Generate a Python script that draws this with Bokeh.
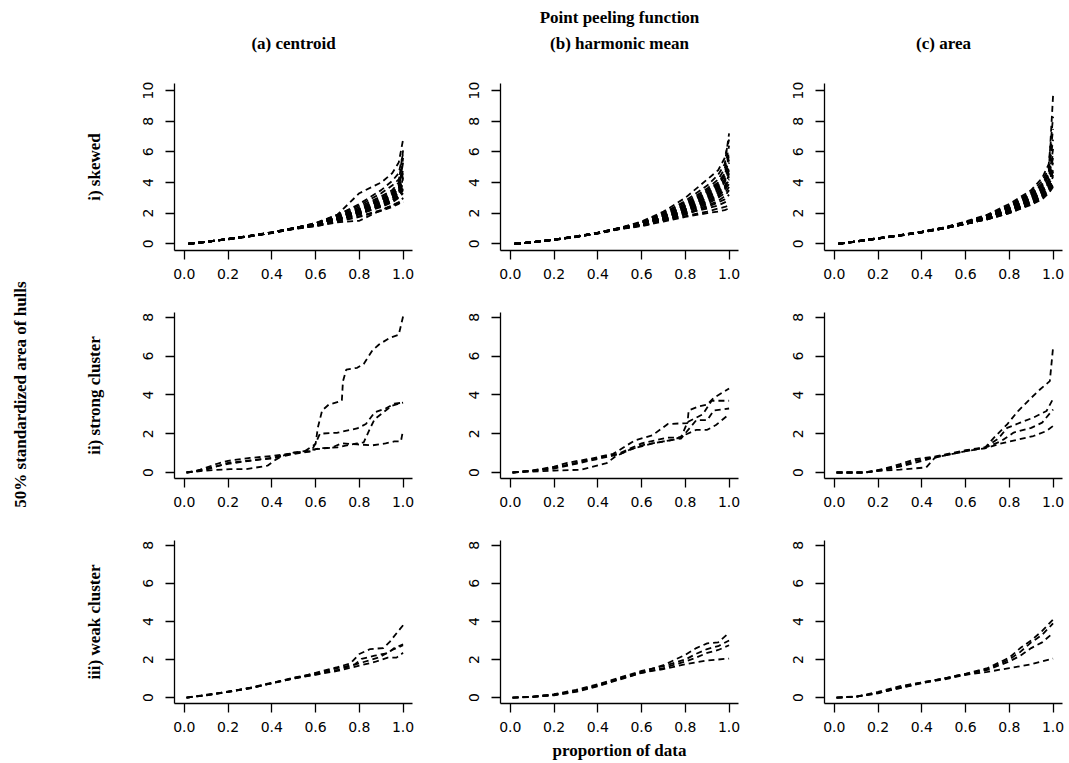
import math
from bokeh.plotting import figure
from bokeh.layouts import gridplot, row
from bokeh.models import Range1d, FixedTicker, PrintfTickFormatter, Title, Label
from bokeh.embed import file_html
from bokeh.resources import INLINE

# ---------------- text ----------------
super_title = "Point peeling function"
panel_titles = ["(a) centroid", "(b) harmonic mean", "(c) area"]
row_labels = ["i) skewed", "ii) strong cluster", "iii) weak cluster"]
y_label = "50% standardized area of hulls"
x_label = "proportion of data"

x_ticks = [0.0, 0.2, 0.4, 0.6, 0.8, 1.0]
y_ticks_skewed = [0, 2, 4, 6, 8, 10]
y_ticks_cluster = [0, 2, 4, 6, 8]

# ---------------- row i) skewed ----------------
skew_x = [0.02, 0.1, 0.2, 0.3, 0.4, 0.5, 0.6, 0.7, 0.8, 0.9, 0.95, 0.98, 1.0]

skew_centroid = [
    [0, 0.13, 0.31, 0.50, 0.72, 1.00, 1.25, 1.60, 2.00, 2.50, 2.80, 3.10, 3.60],
    [0, 0.12, 0.30, 0.52, 0.74, 1.02, 1.30, 1.70, 2.20, 2.80, 3.20, 3.60, 4.40],
    [0, 0.14, 0.32, 0.50, 0.71, 0.98, 1.20, 1.50, 1.80, 2.20, 2.50, 2.70, 2.90],
    [0, 0.12, 0.29, 0.49, 0.73, 1.01, 1.35, 1.90, 2.50, 3.30, 3.80, 4.20, 5.20],
    [0, 0.13, 0.30, 0.51, 0.72, 1.00, 1.30, 1.90, 3.30, 4.00, 4.60, 5.30, 6.80],
    [0, 0.11, 0.31, 0.53, 0.75, 1.03, 1.25, 1.65, 2.10, 2.60, 3.00, 3.40, 4.00],
    [0, 0.13, 0.33, 0.50, 0.70, 0.97, 1.20, 1.55, 1.95, 2.40, 2.70, 3.00, 3.30],
    [0, 0.12, 0.30, 0.50, 0.72, 1.00, 1.30, 1.75, 2.30, 3.00, 3.40, 3.80, 4.80],
    [0, 0.14, 0.31, 0.52, 0.73, 0.99, 1.25, 1.60, 2.05, 2.55, 2.90, 3.30, 5.60],
    [0, 0.12, 0.29, 0.48, 0.70, 0.96, 1.15, 1.40, 1.50, 2.20, 2.50, 2.70, 2.70],
    [0, 0.13, 0.30, 0.51, 0.74, 1.02, 1.35, 1.80, 2.40, 3.10, 3.50, 4.00, 6.10],
    [0, 0.12, 0.32, 0.52, 0.73, 1.00, 1.30, 1.70, 2.15, 2.70, 3.10, 3.50, 4.20],
    [0, 0.13, 0.30, 0.49, 0.71, 0.99, 1.25, 1.60, 1.95, 2.45, 2.75, 3.05, 3.50],
    [0, 0.12, 0.31, 0.51, 0.74, 1.03, 1.30, 1.85, 2.60, 3.50, 4.10, 4.60, 5.90],
    [0, 0.14, 0.31, 0.50, 0.72, 1.00, 1.20, 1.55, 2.00, 2.45, 2.80, 3.20, 3.80],
    [0, 0.12, 0.30, 0.50, 0.73, 1.01, 1.25, 1.70, 2.25, 2.90, 3.30, 3.70, 4.60],
    [0, 0.13, 0.32, 0.51, 0.71, 0.98, 1.15, 1.45, 1.75, 2.15, 2.40, 2.60, 3.00],
    [0, 0.12, 0.30, 0.52, 0.75, 1.02, 1.30, 1.75, 2.20, 2.85, 3.20, 3.60, 5.30],
    [0, 0.13, 0.31, 0.50, 0.72, 1.00, 1.25, 1.65, 2.10, 2.65, 3.00, 3.35, 3.90],
    [0, 0.12, 0.29, 0.50, 0.72, 0.99, 1.20, 1.60, 1.90, 2.50, 2.85, 3.20, 4.30],
]

skew_harmonic = [
    [0, 0.10, 0.27, 0.46, 0.70, 1.00, 1.30, 1.70, 2.30, 3.00, 3.50, 4.00, 4.80],
    [0, 0.11, 0.28, 0.48, 0.72, 1.03, 1.40, 2.00, 2.80, 3.80, 4.50, 5.20, 7.20],
    [0, 0.09, 0.25, 0.45, 0.68, 0.96, 1.20, 1.50, 1.80, 2.10, 2.30, 2.40, 2.50],
    [0, 0.10, 0.27, 0.47, 0.71, 1.01, 1.35, 1.80, 2.50, 3.40, 3.90, 4.50, 5.50],
    [0, 0.11, 0.26, 0.46, 0.69, 0.99, 1.25, 1.60, 2.10, 2.70, 3.10, 3.50, 4.20],
    [0, 0.10, 0.28, 0.49, 0.73, 1.04, 1.45, 2.10, 3.00, 4.20, 4.80, 5.60, 6.80],
    [0, 0.09, 0.26, 0.45, 0.68, 0.97, 1.20, 1.55, 1.90, 2.40, 2.70, 2.90, 3.20],
    [0, 0.10, 0.27, 0.47, 0.70, 1.00, 1.30, 1.75, 2.40, 3.10, 3.60, 4.10, 5.00],
    [0, 0.09, 0.25, 0.44, 0.67, 0.95, 1.15, 1.45, 1.75, 2.00, 2.10, 2.20, 2.30],
    [0, 0.11, 0.28, 0.48, 0.72, 1.02, 1.35, 1.90, 2.60, 3.50, 4.00, 4.60, 6.00],
    [0, 0.10, 0.26, 0.46, 0.70, 0.99, 1.25, 1.65, 2.20, 2.90, 3.30, 3.70, 4.40],
    [0, 0.10, 0.27, 0.47, 0.70, 1.00, 1.30, 1.70, 2.20, 2.80, 3.20, 3.50, 3.90],
    [0, 0.09, 0.26, 0.45, 0.69, 0.98, 1.20, 1.50, 1.95, 2.50, 2.80, 3.10, 3.50],
    [0, 0.11, 0.28, 0.48, 0.72, 1.03, 1.40, 2.00, 2.70, 3.60, 4.20, 4.90, 6.40],
    [0, 0.10, 0.26, 0.46, 0.69, 0.99, 1.25, 1.60, 2.05, 2.60, 3.00, 3.30, 3.70],
    [0, 0.10, 0.27, 0.47, 0.71, 1.01, 1.30, 1.80, 2.45, 3.20, 3.70, 4.20, 5.30],
    [0, 0.09, 0.25, 0.45, 0.68, 0.97, 1.20, 1.55, 2.00, 2.30, 2.50, 2.70, 2.90],
    [0, 0.11, 0.28, 0.48, 0.71, 1.02, 1.35, 1.85, 2.50, 3.30, 3.80, 4.40, 5.80],
    [0, 0.10, 0.27, 0.46, 0.70, 1.00, 1.25, 1.65, 2.15, 2.75, 3.15, 3.60, 4.60],
    [0, 0.10, 0.26, 0.47, 0.70, 1.00, 1.30, 1.70, 2.30, 3.00, 3.40, 3.80, 4.10],
]

skew_area = [
    [0, 0.15, 0.35, 0.55, 0.76, 1.02, 1.35, 1.70, 2.20, 2.90, 3.40, 4.00, 5.00],
    [0, 0.16, 0.36, 0.56, 0.78, 1.05, 1.40, 1.80, 2.40, 3.20, 3.80, 4.60, 9.70],
    [0, 0.15, 0.34, 0.54, 0.75, 1.00, 1.30, 1.60, 2.00, 2.60, 3.00, 3.40, 3.80],
    [0, 0.15, 0.35, 0.55, 0.77, 1.03, 1.35, 1.75, 2.30, 3.00, 3.60, 4.20, 6.20],
    [0, 0.16, 0.36, 0.57, 0.79, 1.05, 1.40, 1.85, 2.50, 3.40, 4.10, 4.90, 7.50],
    [0, 0.14, 0.34, 0.54, 0.75, 1.01, 1.30, 1.65, 2.10, 2.70, 3.20, 3.70, 4.40],
    [0, 0.15, 0.35, 0.55, 0.76, 1.02, 1.35, 1.70, 2.20, 2.85, 3.30, 3.90, 4.70],
    [0, 0.15, 0.34, 0.53, 0.74, 1.00, 1.30, 1.60, 2.05, 2.60, 3.10, 3.50, 3.90],
    [0, 0.16, 0.36, 0.56, 0.78, 1.04, 1.40, 1.80, 2.35, 3.10, 3.70, 4.40, 5.60],
    [0, 0.15, 0.35, 0.55, 0.77, 1.03, 1.35, 1.75, 2.25, 2.95, 3.50, 4.10, 5.30],
    [0, 0.14, 0.34, 0.54, 0.75, 1.01, 1.30, 1.65, 2.10, 2.75, 3.20, 3.60, 4.20],
    [0, 0.16, 0.37, 0.57, 0.79, 1.06, 1.45, 1.90, 2.60, 3.50, 4.30, 5.20, 8.30],
    [0, 0.15, 0.35, 0.55, 0.76, 1.02, 1.35, 1.70, 2.20, 2.90, 3.40, 3.80, 4.50],
    [0, 0.14, 0.33, 0.53, 0.74, 1.00, 1.30, 1.60, 2.00, 2.55, 2.90, 3.30, 3.70],
    [0, 0.16, 0.36, 0.56, 0.78, 1.04, 1.40, 1.80, 2.40, 3.20, 3.90, 4.50, 5.90],
    [0, 0.15, 0.35, 0.55, 0.76, 1.02, 1.35, 1.70, 2.15, 2.80, 3.30, 3.90, 4.90],
    [0, 0.14, 0.34, 0.54, 0.75, 1.01, 1.30, 1.65, 2.10, 2.70, 3.10, 3.60, 4.10],
    [0, 0.16, 0.36, 0.56, 0.78, 1.04, 1.40, 1.85, 2.45, 3.30, 3.90, 4.70, 6.80],
    [0, 0.15, 0.35, 0.55, 0.77, 1.03, 1.35, 1.75, 2.30, 3.00, 3.50, 4.00, 4.80],
    [0, 0.14, 0.34, 0.54, 0.75, 1.00, 1.30, 1.60, 2.05, 2.65, 3.05, 3.50, 4.00],
]

# ---------------- row ii) strong cluster ----------------
strong_centroid_x = [
    [0.01, 0.10, 0.20, 0.30, 0.41, 0.48, 0.55, 0.60, 0.61, 0.63, 0.66, 0.72, 0.725, 0.74, 0.79, 0.82, 0.86, 0.89, 0.94, 0.98, 1.0],
    [0.01, 0.05, 0.10, 0.15, 0.20, 0.30, 0.40, 0.50, 0.58, 0.60, 0.62, 0.70, 0.79, 0.83, 0.87, 0.92, 0.96, 1.0],
    [0.01, 0.10, 0.20, 0.30, 0.40, 0.50, 0.58, 0.60, 0.67, 0.72, 0.79, 0.86, 0.92, 0.96, 0.99, 1.0],
    [0.01, 0.10, 0.21, 0.28, 0.38, 0.41, 0.45, 0.50, 0.58, 0.62, 0.70, 0.79, 0.82, 0.85, 0.87, 0.91, 0.95, 1.0],
]
strong_centroid_y = [
    [0, 0.20, 0.45, 0.60, 0.78, 0.95, 1.10, 1.47, 2.30, 3.20, 3.50, 3.70, 4.70, 5.30, 5.40, 5.60, 6.30, 6.60, 6.95, 7.10, 8.05],
    [0, 0.05, 0.25, 0.45, 0.60, 0.75, 0.85, 1.00, 1.10, 1.50, 2.00, 2.05, 2.27, 2.50, 3.10, 3.30, 3.55, 3.60],
    [0, 0.15, 0.50, 0.62, 0.72, 0.95, 1.10, 1.20, 1.27, 1.50, 1.45, 1.40, 1.50, 1.60, 1.60, 2.20],
    [0, 0.10, 0.17, 0.17, 0.35, 0.60, 0.87, 1.03, 1.15, 1.25, 1.30, 1.50, 1.55, 2.30, 2.75, 3.10, 3.45, 3.60],
]

strong_harmonic_x = [
    [0.01, 0.10, 0.20, 0.26, 0.37, 0.47, 0.57, 0.65, 0.72, 0.81, 0.815, 0.86, 0.90, 0.93, 1.0],
    [0.01, 0.10, 0.20, 0.30, 0.40, 0.50, 0.60, 0.72, 0.78, 0.81, 0.88, 0.92, 1.0],
    [0.01, 0.10, 0.20, 0.30, 0.40, 0.50, 0.60, 0.70, 0.78, 0.85, 0.90, 0.93, 1.0],
    [0.01, 0.10, 0.20, 0.32, 0.44, 0.48, 0.55, 0.65, 0.75, 0.81, 0.85, 0.90, 0.94, 1.0],
]
strong_harmonic_y = [
    [0, 0.10, 0.30, 0.50, 0.72, 0.96, 1.66, 1.92, 2.50, 2.55, 3.20, 3.40, 3.50, 3.85, 4.33],
    [0, 0.10, 0.25, 0.50, 0.75, 1.00, 1.50, 1.80, 1.80, 2.60, 3.00, 3.70, 3.70],
    [0, 0.08, 0.20, 0.45, 0.70, 0.95, 1.40, 1.60, 1.75, 2.70, 2.70, 3.20, 3.30],
    [0, 0.05, 0.10, 0.14, 0.48, 0.82, 1.20, 1.50, 1.70, 2.00, 2.20, 2.20, 2.45, 3.00],
]

strong_area_x = [
    [0.01, 0.14, 0.22, 0.30, 0.37, 0.45, 0.60, 0.69, 0.73, 0.79, 0.84, 0.90, 0.94, 0.985, 1.0],
    [0.01, 0.14, 0.22, 0.30, 0.37, 0.45, 0.60, 0.69, 0.75, 0.79, 0.85, 0.91, 0.97, 1.0],
    [0.01, 0.14, 0.22, 0.30, 0.37, 0.45, 0.60, 0.69, 0.76, 0.82, 0.90, 0.95, 1.0],
    [0.01, 0.14, 0.22, 0.30, 0.42, 0.46, 0.60, 0.69, 0.75, 0.84, 0.91, 0.97, 1.0],
]
strong_area_y = [
    [0, 0, 0.17, 0.43, 0.69, 0.80, 1.15, 1.30, 1.80, 2.48, 3.17, 3.85, 4.28, 4.71, 6.45],
    [0, 0, 0.15, 0.35, 0.60, 0.77, 1.11, 1.30, 1.75, 2.30, 2.57, 2.83, 3.17, 3.80],
    [0, 0, 0.12, 0.30, 0.50, 0.75, 1.10, 1.28, 1.60, 2.06, 2.30, 2.57, 3.25],
    [0, 0, 0.10, 0.15, 0.26, 0.77, 1.10, 1.25, 1.46, 1.70, 1.88, 2.14, 2.40],
]

# ---------------- row iii) weak cluster ----------------
weak_centroid_x = [
    [0.01, 0.10, 0.20, 0.30, 0.40, 0.50, 0.60, 0.70, 0.76, 0.80, 0.85, 0.91, 0.94, 0.97, 1.0],
    [0.01, 0.10, 0.20, 0.30, 0.40, 0.50, 0.60, 0.70, 0.78, 0.81, 0.87, 0.93, 0.96, 1.0],
    [0.01, 0.10, 0.20, 0.30, 0.40, 0.50, 0.60, 0.70, 0.82, 0.89, 0.95, 1.0],
    [0.01, 0.10, 0.20, 0.30, 0.40, 0.50, 0.60, 0.70, 0.80, 0.87, 0.93, 0.97, 1.0],
]
weak_centroid_y = [
    [0, 0.15, 0.30, 0.50, 0.75, 1.00, 1.30, 1.60, 1.80, 2.29, 2.55, 2.60, 2.94, 3.38, 3.80],
    [0, 0.12, 0.32, 0.50, 0.76, 1.05, 1.25, 1.55, 1.75, 2.03, 2.20, 2.34, 2.60, 2.80],
    [0, 0.13, 0.30, 0.52, 0.78, 1.02, 1.22, 1.45, 1.87, 2.11, 2.50, 2.75],
    [0, 0.12, 0.30, 0.48, 0.76, 1.00, 1.20, 1.40, 1.68, 1.87, 2.10, 2.10, 2.35],
]

weak_harmonic_x = [
    [0.01, 0.10, 0.20, 0.30, 0.40, 0.50, 0.60, 0.70, 0.80, 0.85, 0.90, 0.95, 1.0],
    [0.01, 0.10, 0.20, 0.30, 0.40, 0.50, 0.60, 0.70, 0.80, 0.85, 0.90, 0.95, 1.0],
    [0.01, 0.10, 0.20, 0.30, 0.40, 0.50, 0.60, 0.70, 0.80, 0.85, 0.90, 0.95, 1.0],
    [0.01, 0.10, 0.20, 0.30, 0.40, 0.50, 0.60, 0.70, 0.80, 0.85, 0.90, 0.95, 1.0],
]
weak_harmonic_y = [
    [0, 0.05, 0.15, 0.35, 0.65, 1.00, 1.35, 1.70, 2.25, 2.60, 2.85, 2.90, 3.40],
    [0, 0.05, 0.18, 0.40, 0.70, 1.05, 1.40, 1.65, 2.00, 2.30, 2.55, 2.70, 3.00],
    [0, 0.03, 0.12, 0.30, 0.60, 0.95, 1.30, 1.55, 1.90, 2.10, 2.35, 2.50, 2.75],
    [0, 0.04, 0.15, 0.35, 0.62, 0.98, 1.30, 1.50, 1.75, 1.85, 1.95, 2.00, 2.05],
]

weak_area_x = [
    [0.01, 0.10, 0.20, 0.30, 0.40, 0.50, 0.60, 0.70, 0.80, 0.85, 0.90, 0.95, 1.0],
    [0.01, 0.10, 0.20, 0.30, 0.40, 0.50, 0.60, 0.70, 0.80, 0.85, 0.90, 0.95, 1.0],
    [0.01, 0.10, 0.20, 0.30, 0.40, 0.50, 0.60, 0.70, 0.80, 0.85, 0.90, 0.95, 1.0],
    [0.01, 0.10, 0.20, 0.30, 0.40, 0.50, 0.60, 0.70, 0.80, 0.85, 0.90, 0.95, 1.0],
]
weak_area_y = [
    [0, 0.05, 0.25, 0.50, 0.75, 1.00, 1.25, 1.55, 2.10, 2.60, 3.00, 3.50, 4.10],
    [0, 0.05, 0.22, 0.55, 0.80, 1.00, 1.20, 1.50, 2.00, 2.40, 2.90, 3.30, 3.90],
    [0, 0.04, 0.30, 0.60, 0.80, 1.00, 1.25, 1.45, 1.90, 2.20, 2.60, 2.90, 3.40],
    [0, 0.06, 0.25, 0.50, 0.78, 0.95, 1.20, 1.35, 1.55, 1.65, 1.75, 1.90, 2.05],
]

# ---------------- layout / styling ----------------
TITLE_FONT = "Liberation Serif"
TICK_FONT = "DejaVu Sans"
LABEL_W = 40
FRAME_W = 238
BORDER_L = [134, 78, 76]
BORDER_R = [10, 10, 6]
FRAME_H = [167, 166, 166]
BORDER_T = [83, 12, 12]
BORDER_B = [50, 50, 56]
TOTAL_H = sum(BORDER_T) + sum(FRAME_H) + sum(BORDER_B)


def panel(r, c, xs_list, ys_list):
    if r == 0:
        yr = Range1d(-0.44, 10.46)
        yt = y_ticks_skewed
    else:
        yr = Range1d(-0.31, 8.25)
        yt = y_ticks_cluster
    p = figure(
        width=BORDER_L[c] + FRAME_W + BORDER_R[c],
        height=BORDER_T[r] + FRAME_H[r] + BORDER_B[r],
        x_range=Range1d(-0.045, 1.043), y_range=yr,
        output_backend="svg", toolbar_location=None,
        min_border_left=BORDER_L[c], min_border_right=BORDER_R[c],
        min_border_top=BORDER_T[r], min_border_bottom=BORDER_B[r],
        background_fill_color="white", border_fill_color="white",
    )
    p.outline_line_color = None
    p.grid.visible = False
    for ax in (p.xaxis[0], p.yaxis[0]):
        ax.axis_line_color = "black"
        ax.axis_line_width = 1.3
        ax.major_tick_line_color = "black"
        ax.major_tick_line_width = 1.3
        ax.major_tick_out = 9
        ax.major_tick_in = 0
        ax.minor_tick_out = 0
        ax.minor_tick_in = 0
        ax.major_label_text_font = TICK_FONT
        ax.major_label_text_font_size = "14px"
        ax.major_label_text_color = "black"
        ax.axis_label_text_color = "black"
    p.xaxis.ticker = FixedTicker(ticks=x_ticks)
    p.xaxis.formatter = PrintfTickFormatter(format="%.1f")
    p.xaxis.major_label_standoff = 9
    p.yaxis.ticker = FixedTicker(ticks=yt)
    p.yaxis.formatter = PrintfTickFormatter(format="%d")
    p.yaxis.major_label_orientation = "parallel"
    p.yaxis.major_label_standoff = 12

    for xs, ys in zip(xs_list, ys_list):
        p.line(xs, ys, line_color="black", line_width=1.8, line_dash="6 4")

    if c == 0:
        p.yaxis.axis_label = row_labels[r]
        p.yaxis.axis_label_text_font = TITLE_FONT
        p.yaxis.axis_label_text_font_style = "bold"
        p.yaxis.axis_label_text_font_size = "17px"
        p.yaxis.axis_label_standoff = 37
    if r == 0:
        p.add_layout(Title(text=panel_titles[c], align="center", text_font=TITLE_FONT,
                           text_font_style="bold", text_font_size="17px",
                           text_color="black", standoff=61), "above")
        if c == 1:
            p.add_layout(Title(text=super_title, align="center", text_font=TITLE_FONT,
                               text_font_style="bold", text_font_size="17px",
                               text_color="black", standoff=-51), "above")
    if r == 2 and c == 1:
        p.xaxis.axis_label = x_label
        p.xaxis.axis_label_text_font = TITLE_FONT
        p.xaxis.axis_label_text_font_style = "bold"
        p.xaxis.axis_label_text_font_size = "17px"
        p.xaxis.axis_label_standoff = 6
    return p


data = [
    [([skew_x] * len(skew_centroid), skew_centroid),
     ([skew_x] * len(skew_harmonic), skew_harmonic),
     ([skew_x] * len(skew_area), skew_area)],
    [(strong_centroid_x, strong_centroid_y),
     (strong_harmonic_x, strong_harmonic_y),
     (strong_area_x, strong_area_y)],
    [(weak_centroid_x, weak_centroid_y),
     (weak_harmonic_x, weak_harmonic_y),
     (weak_area_x, weak_area_y)],
]

rows = []
for r in range(3):
    rows.append([panel(r, c, data[r][c][0], data[r][c][1]) for c in range(3)])

grid = gridplot(rows, toolbar_location=None)

# narrow strip holding the shared y label
lab = figure(width=LABEL_W, height=TOTAL_H, x_range=Range1d(0, LABEL_W),
             y_range=Range1d(0, TOTAL_H), output_backend="svg", toolbar_location=None,
             x_axis_type=None, y_axis_type=None, min_border=0,
             min_border_left=0, min_border_right=0, min_border_top=0, min_border_bottom=0)
lab.outline_line_color = None
lab.grid.visible = False
lab.add_layout(Label(x=20, y=TOTAL_H - 394, text=y_label, angle=math.pi / 2,
                     text_align="center", text_baseline="middle",
                     text_font=TITLE_FONT, text_font_style="bold",
                     text_font_size="17px", text_color="black"))

layout = row(lab, grid)
open("out.html", "w").write(file_html(layout, INLINE))
